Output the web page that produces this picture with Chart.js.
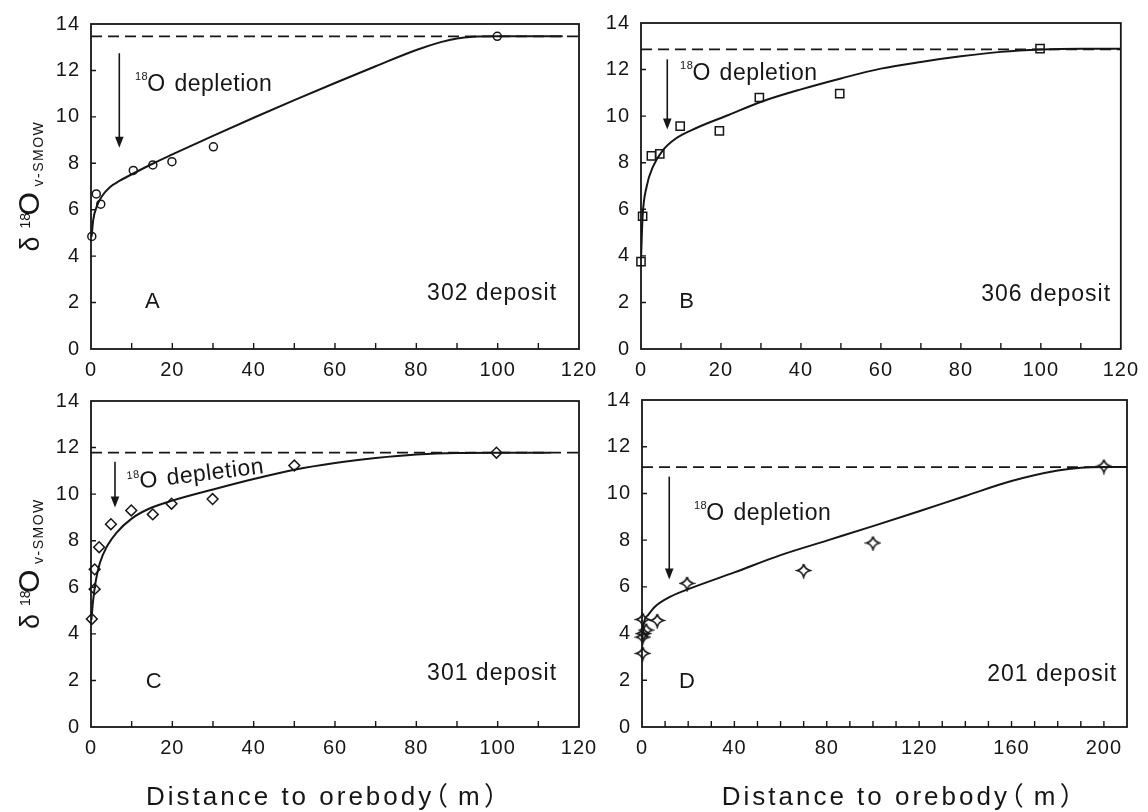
<!DOCTYPE html>
<html>
<head>
<meta charset="utf-8">
<script src="https://cdn.jsdelivr.net/npm/chart.js@4.4.0/dist/chart.umd.min.js"></script>
<style>
  body { margin: 0; background: #fff; }
  #wrap { position: relative; width: 1148px; height: 812px; }
  #wrap canvas { position: absolute; }
</style>
</head>
<body>
<div id="wrap">
  <canvas id="chartA" width="610" height="377" style="left:0;top:0"></canvas>
  <canvas id="chartB" width="574" height="377" style="left:574px;top:0"></canvas>
  <canvas id="chartC" width="610" height="435" style="left:0;top:377px"></canvas>
  <canvas id="chartD" width="574" height="435" style="left:574px;top:377px"></canvas>
</div>
<script>
const ink = '#161616'
const font = '"Liberation Sans", Arial, sans-serif'
const fontCjk = '"Liberation Sans", "Noto Sans CJK SC", sans-serif'

// axis ticks
const yTicks = [0, 2, 4, 6, 8, 10, 12, 14]
const xTicks120 = [0, 10, 20, 30, 40, 50, 60, 70, 80, 90, 100, 110, 120]
const xLabels120 = [0, 20, 40, 60, 80, 100, 120]
const xTicks210 = [0, 10, 20, 30, 40, 50, 60, 70, 80, 90, 100, 110, 120, 130, 140, 150, 160, 170, 180, 190, 200]
const xLabels210 = [0, 40, 80, 120, 160, 200]

// 302 deposit
const distA = [0.2, 1.3, 2.4, 10.4, 15.2, 19.9, 30.1, 99.9]
const d18oA = [4.85, 6.68, 6.24, 7.69, 7.93, 8.07, 8.71, 13.47]
const fitDistA = [0.15, 0.55, 1.4, 2.6, 4.7, 7.1, 10.4, 15, 20, 30, 40, 50, 60, 70, 80, 86, 90, 94, 100, 116]
const fitD18oA = [4.84, 5.56, 6.13, 6.56, 6.98, 7.25, 7.56, 7.97, 8.38, 9.18, 9.96, 10.72, 11.46, 12.18, 12.88, 13.22, 13.38, 13.45, 13.47, 13.47]
const baseA = 13.47

// 306 deposit
const distB = [0, 0.4, 2.6, 4.7, 9.8, 19.6, 29.6, 49.7, 99.8]
const d18oB = [3.75, 5.7, 8.29, 8.38, 9.57, 9.37, 10.8, 10.97, 12.9]
const fitDistB = [0, 0.4, 1.4, 3.0, 5.5, 8.8, 13.7, 21.9, 30.1, 40, 50, 60, 70, 80, 90, 100, 110, 120]
const fitD18oB = [3.85, 5.68, 6.97, 7.83, 8.54, 9.05, 9.48, 10.05, 10.62, 11.15, 11.62, 12.04, 12.33, 12.57, 12.76, 12.86, 12.89, 12.89]
const baseB = 12.87

// 301 deposit
const distC = [0.2, 0.9, 0.9, 2.0, 4.9, 9.9, 15.2, 19.8, 29.9, 50, 99.7]
const d18oC = [4.64, 5.92, 6.77, 7.72, 8.71, 9.3, 9.13, 9.59, 9.79, 11.23, 11.78]
const fitDistC = [0.1, 0.5, 1.2, 2.2, 3.9, 6.3, 10, 14, 20, 30, 40, 50, 60, 70, 80, 90, 100, 113]
const fitD18oC = [4.6, 5.4, 6.3, 7.05, 7.75, 8.35, 8.95, 9.35, 9.72, 10.2, 10.65, 11.05, 11.34, 11.55, 11.7, 11.77, 11.78, 11.78]
const baseC = 11.78

// 201 deposit
const distD = [0.3, 0.3, 0.6, 1.8, 0.3, 6.6, 19.5, 70, 100, 200]
const d18oD = [3.15, 3.85, 4.0, 4.15, 4.6, 4.56, 6.15, 6.7, 7.88, 11.17]
const fitDistD = [0.2, 0.7, 2.7, 5.6, 10.7, 20, 40, 60, 80, 100, 120, 140, 160, 180, 190, 200, 210]
const fitD18oD = [3.8, 4.4, 4.8, 5.15, 5.5, 5.9, 6.62, 7.36, 7.98, 8.6, 9.24, 9.89, 10.53, 10.98, 11.1, 11.13, 11.13]
const baseD = 11.13

Chart.defaults.font.family = font
Chart.defaults.color = ink

// four-pointed sparkle marker for the 201 deposit
function sparkle(r) {
  const c = document.createElement('canvas')
  const s = Math.ceil(r * 2 + 4)
  c.width = s
  c.height = s
  const g = c.getContext('2d')
  const m = s / 2, k = 1.3
  g.strokeStyle = ink
  g.lineWidth = 1.6
  g.beginPath()
  g.moveTo(m, m - r)
  g.quadraticCurveTo(m + k, m - k, m + r, m)
  g.quadraticCurveTo(m + k, m + k, m, m + r)
  g.quadraticCurveTo(m - k, m + k, m - r, m)
  g.quadraticCurveTo(m - k, m - k, m, m - r)
  g.stroke()
  return c
}

// a little tracking on the tick labels
const spacing = {
  id: 'spacing',
  beforeLayout(chart) { chart.ctx.letterSpacing = '1px' },
  beforeDraw(chart) { chart.ctx.letterSpacing = '1px' }
}

// closed box with inward tick marks
const frame = {
  id: 'frame',
  afterDatasetsDraw(chart) {
    const { ctx, chartArea: a, scales: { x, y } } = chart
    ctx.save()
    ctx.strokeStyle = ink
    ctx.lineWidth = 1.8
    ctx.strokeRect(a.left, a.top, a.right - a.left, a.bottom - a.top)
    ctx.lineWidth = 1.4
    ctx.beginPath()
    x.ticks.forEach(t => {
      const p = x.getPixelForValue(t.value)
      if (p > a.left + 2 && p < a.right - 2) {
        ctx.moveTo(p, a.bottom)
        ctx.lineTo(p, a.bottom - 6)
      }
    })
    y.ticks.forEach(t => {
      const p = y.getPixelForValue(t.value)
      if (p > a.top + 2 && p < a.bottom - 2) {
        ctx.moveTo(a.left, p)
        ctx.lineTo(a.left + 5, p)
      }
    })
    ctx.stroke()
    ctx.restore()
  }
}

// put a piece of text with its inked left edge at x
function inkText(ctx, s, x, y) {
  ctx.fillText(s, x + ctx.measureText(s).actualBoundingBoxLeft, y)
}

function notesPlugin(n) {
  return {
    id: 'notes',
    afterDraw(chart) {
      const { ctx, chartArea: a, scales: { x, y } } = chart
      const px = v => x.getPixelForValue(v)
      const py = v => y.getPixelForValue(v)
      ctx.save()
      ctx.fillStyle = ink
      ctx.strokeStyle = ink

      // depletion arrow
      const ax = px(n.arrow[0]), ay0 = py(n.arrow[1]), ay1 = py(n.arrow[2])
      ctx.lineWidth = 1.6
      ctx.beginPath()
      ctx.moveTo(ax, ay0)
      ctx.lineTo(ax, ay1 - 8)
      ctx.stroke()
      ctx.beginPath()
      ctx.moveTo(ax - 4.3, ay1 - 11)
      ctx.lineTo(ax + 4.3, ay1 - 11)
      ctx.lineTo(ax, ay1)
      ctx.closePath()
      ctx.fill()

      // 18O depletion
      ctx.save()
      ctx.translate(px(n.label[0]), py(n.label[1]))
      ctx.rotate(n.label[2] * Math.PI / 180)
      ctx.textAlign = 'left'
      ctx.textBaseline = 'alphabetic'
      ctx.font = '11px ' + font
      ctx.letterSpacing = '0.5px'
      ctx.fillText('18', -1, -2.8)
      ctx.font = '23px ' + font
      ctx.letterSpacing = '0px'
      ctx.fillText('O', 11.3, 8)
      ctx.letterSpacing = '0.5px'
      ctx.fillText('depletion', 38.5, 8)
      ctx.restore()

      // panel letter and deposit name
      ctx.textAlign = 'center'
      ctx.textBaseline = 'middle'
      ctx.font = '22px ' + font
      ctx.letterSpacing = '0px'
      ctx.fillText(n.letter[2], px(n.letter[0]), py(n.letter[1]))
      ctx.font = '23px ' + font
      ctx.letterSpacing = '1px'
      ctx.fillText(n.deposit[2], px(n.deposit[0]) + 0.5, py(n.deposit[1]))

      // δ18O V-SMOW axis title
      if (n.yTitle) {
        ctx.save()
        ctx.translate(38.5, (a.top + a.bottom) / 2)
        ctx.rotate(-Math.PI / 2)
        ctx.textAlign = 'left'
        ctx.textBaseline = 'alphabetic'
        ctx.letterSpacing = '0px'
        ctx.font = '27px ' + font
        ctx.fillText('δ', -65, 0)
        ctx.font = '14px ' + font
        ctx.fillText('18', -42, -8.5)
        ctx.font = '30px ' + font
        ctx.fillText('O', -29, 0)
        ctx.font = '14px ' + font
        ctx.letterSpacing = '1.5px'
        ctx.fillText('v-SMOW', 0, 4)
        ctx.restore()
      }

      // distance axis title
      if (n.xTitle) {
        const x0 = n.xTitle, base = chart.height - 7
        ctx.textAlign = 'left'
        ctx.textBaseline = 'alphabetic'
        ctx.font = '26px ' + fontCjk
        ctx.letterSpacing = '3px'
        inkText(ctx, 'Distance to orebody', x0, base)
        ctx.letterSpacing = '0px'
        inkText(ctx, '（', x0 + 292, base)
        inkText(ctx, 'm', x0 + 311, base)
        inkText(ctx, '）', x0 + 337, base)
      }
      ctx.restore()
    }
  }
}

function panel(id, o) {
  const pts = o.dist.map((x, i) => ({ x, y: o.d18o[i] }))
  const fit = o.fitDist.map((x, i) => ({ x, y: o.fitD18o[i] }))
  return new Chart(document.getElementById(id), {
    type: 'scatter',
    data: {
      datasets: [
        {
          data: pts,
          pointStyle: o.marker,
          pointRadius: o.radius,
          borderColor: ink,
          borderWidth: 1.5,
          backgroundColor: 'rgba(0,0,0,0)',
          clip: false
        },
        {
          data: fit,
          showLine: true,
          pointRadius: 0,
          borderColor: ink,
          borderWidth: 2,
          cubicInterpolationMode: 'monotone'
        },
        {
          data: [{ x: 0, y: o.base }, { x: o.xMax, y: o.base }],
          showLine: true,
          pointRadius: 0,
          borderColor: ink,
          borderWidth: 1.8,
          borderDash: [11, 6]
        }
      ]
    },
    options: {
      responsive: false,
      animation: false,
      layout: { padding: { top: o.box.top, right: o.box.right, left: 0, bottom: 0 } },
      plugins: { legend: { display: false }, tooltip: { enabled: false } },
      scales: {
        x: {
          type: 'linear',
          min: 0,
          max: o.xMax,
          afterBuildTicks: s => { s.ticks = o.xTicks.map(v => ({ value: v })) },
          afterFit: s => { s.height = o.box.xh },
          grid: { display: false, drawTicks: false },
          border: { display: false },
          ticks: {
            autoSkip: false,
            maxRotation: 0,
            padding: 9,
            color: ink,
            font: { size: 20 },
            callback: v => o.xLabels.includes(v) ? String(v) : ''
          }
        },
        y: {
          type: 'linear',
          min: 0,
          max: 14,
          afterBuildTicks: s => { s.ticks = yTicks.map(v => ({ value: v })) },
          afterFit: s => { s.width = o.box.left },
          grid: { display: false, drawTicks: false },
          border: { display: false },
          ticks: { padding: 11, color: ink, font: { size: 20 } }
        }
      }
    },
    plugins: [spacing, frame, notesPlugin(o.notes)]
  })
}

panel('chartA', {
  dist: distA, d18o: d18oA, fitDist: fitDistA, fitD18o: fitD18oA, base: baseA,
  xMax: 120, xTicks: xTicks120, xLabels: xLabels120,
  marker: 'circle', radius: 4,
  box: { top: 24, right: 31, left: 91, xh: 28 },
  notes: {
    arrow: [6.96, 12.74, 8.67], label: [11.06, 11.47, 0],
    letter: [15.1, 2.04, 'A'], deposit: [98.5, 2.37, '302 deposit'], yTitle: true
  }
})

panel('chartB', {
  dist: distB, d18o: d18oB, fitDist: fitDistB, fitD18o: fitD18oB, base: baseB,
  xMax: 120, xTicks: xTicks120, xLabels: xLabels120,
  marker: 'rect', radius: 5.8,
  box: { top: 23, right: 20, left: 67, xh: 28 },
  notes: {
    arrow: [6.57, 12.44, 9.43], label: [10.03, 11.89, 0],
    letter: [11.4, 2.03, 'B'], deposit: [101.2, 2.34, '306 deposit']
  }
})

panel('chartC', {
  dist: distC, d18o: d18oC, fitDist: fitDistC, fitD18o: fitD18oC, base: baseC,
  xMax: 120, xTicks: xTicks120, xLabels: xLabels120,
  marker: 'rectRot', radius: 5.4,
  box: { top: 24, right: 31, left: 91, xh: 85 },
  notes: {
    arrow: [5.9, 11.39, 9.43], label: [9.17, 10.53, -7],
    letter: [15.4, 1.95, 'C'], deposit: [98.5, 2.27, '301 deposit'], yTitle: true, xTitle: 148
  }
})

panel('chartD', {
  dist: distD, d18o: d18oD, fitDist: fitDistD, fitD18o: fitD18oD, base: baseD,
  xMax: 210, xTicks: xTicks210, xLabels: xLabels210,
  marker: sparkle(6.5), radius: 6.5,
  box: { top: 23, right: 21, left: 68, xh: 85 },
  notes: {
    arrow: [11.8, 10.72, 6.32], label: [22.9, 9.22, 0],
    letter: [19.5, 1.94, 'D'], deposit: [177.4, 2.26, '201 deposit'], xTitle: 149.7
  }
})
</script>
</body>
</html>
